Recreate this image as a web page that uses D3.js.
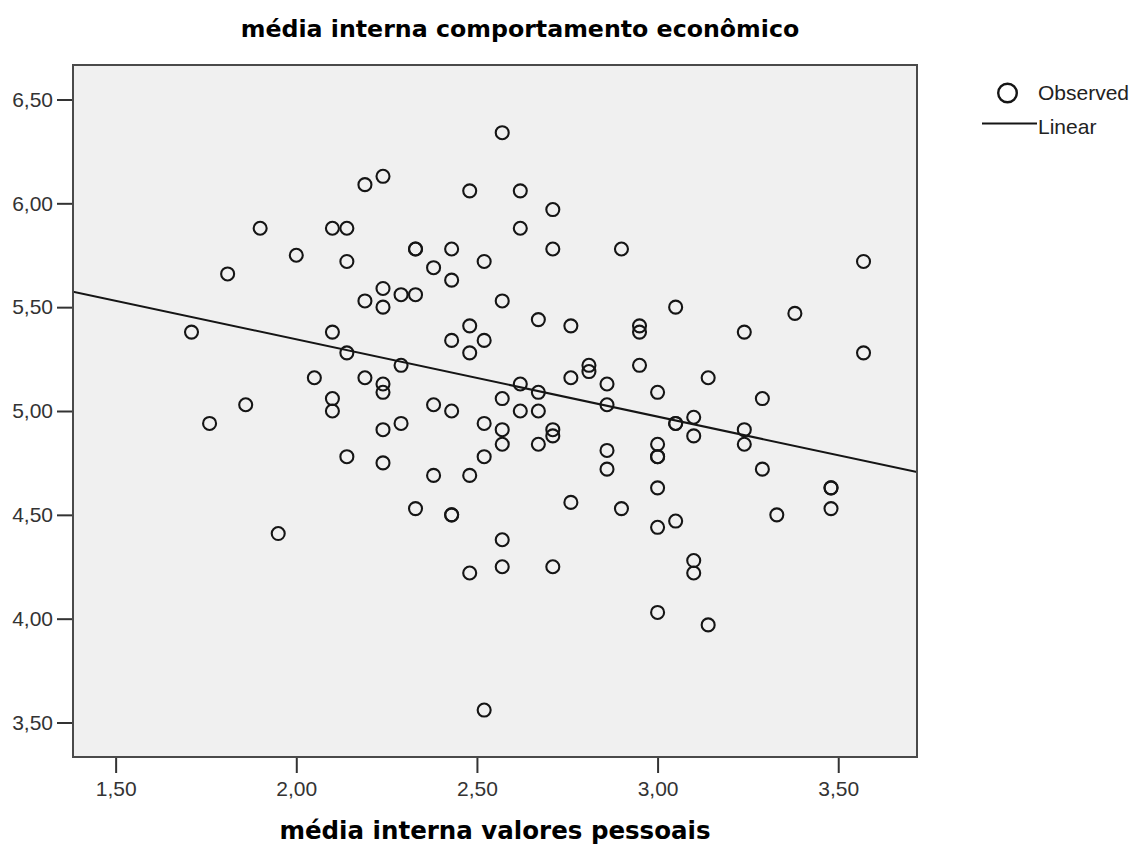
<!DOCTYPE html>
<html>
<head>
<meta charset="utf-8">
<script src="https://cdn.jsdelivr.net/npm/d3@7"></script>
<style>
  html, body { margin: 0; padding: 0; background: #ffffff; }
  svg { display: block; }
</style>
</head>
<body>
<svg id="chart" width="1138" height="847"></svg>
<script>
// média interna valores pessoais (x) vs média interna comportamento econômico (y)
const valoresPessoais = [
  1.71, 1.76, 1.81, 1.86, 1.90, 1.95, 2.00, 2.05, 2.10, 2.10,
  2.10, 2.10, 2.14, 2.14, 2.14, 2.14, 2.19, 2.19, 2.19, 2.24,
  2.24, 2.24, 2.24, 2.24, 2.24, 2.24, 2.29, 2.29, 2.29, 2.33,
  2.33, 2.33, 2.33, 2.38, 2.38, 2.38, 2.43, 2.43, 2.43, 2.43,
  2.43, 2.43, 2.48, 2.48, 2.48, 2.48, 2.48, 2.52, 2.52, 2.52,
  2.52, 2.52, 2.57, 2.57, 2.57, 2.57, 2.57, 2.57, 2.57, 2.62,
  2.62, 2.62, 2.62, 2.67, 2.67, 2.67, 2.67, 2.71, 2.71, 2.71,
  2.71, 2.71, 2.76, 2.76, 2.76, 2.81, 2.81, 2.86, 2.86, 2.86,
  2.86, 2.90, 2.90, 2.95, 2.95, 2.95, 3.00, 3.00, 3.00, 3.00,
  3.00, 3.00, 3.00, 3.05, 3.05, 3.05, 3.05, 3.10, 3.10, 3.10,
  3.10, 3.14, 3.14, 3.24, 3.24, 3.24, 3.29, 3.29, 3.33, 3.38,
  3.48, 3.48, 3.48, 3.57, 3.57
];
const comportamentoEconomico = [
  5.38, 4.94, 5.66, 5.03, 5.88, 4.41, 5.75, 5.16, 5.88, 5.38,
  5.06, 5.00, 5.88, 5.72, 5.28, 4.78, 6.09, 5.53, 5.16, 6.13,
  5.59, 5.50, 5.13, 5.09, 4.91, 4.75, 5.56, 5.22, 4.94, 5.78,
  5.78, 5.56, 4.53, 5.69, 5.03, 4.69, 5.78, 5.63, 5.34, 5.00,
  4.50, 4.50, 6.06, 5.41, 5.28, 4.69, 4.22, 5.72, 5.34, 4.94,
  4.78, 3.56, 6.34, 5.53, 5.06, 4.91, 4.84, 4.38, 4.25, 6.06,
  5.88, 5.13, 5.00, 5.44, 5.09, 5.00, 4.84, 5.97, 5.78, 4.91,
  4.88, 4.25, 5.41, 5.16, 4.56, 5.22, 5.19, 5.13, 5.03, 4.81,
  4.72, 5.78, 4.53, 5.41, 5.38, 5.22, 5.09, 4.84, 4.78, 4.78,
  4.63, 4.44, 4.03, 5.50, 4.94, 4.94, 4.47, 4.97, 4.88, 4.28,
  4.22, 5.16, 3.97, 5.38, 4.91, 4.84, 5.06, 4.72, 4.50, 5.47,
  4.63, 4.63, 4.53, 5.72, 5.28
];

// Linear fit line (intercept, slope)
const fitIntercept = 6.089;
const fitSlope = -0.372;

const xTicks = [1.5, 2.0, 2.5, 3.0, 3.5];
const yTicks = [3.5, 4.0, 4.5, 5.0, 5.5, 6.0, 6.5];
const xDomain = [1.382, 3.718];
const yDomain = [3.334, 6.666];

const titleText = "média interna comportamento econômico";
const xTitleText = "média interna valores pessoais";
const legendLabels = ["Observed", "Linear"];

const svg = d3.select("#chart");
const plot = { left: 73, top: 65, right: 917, bottom: 757 };

const x = d3.scaleLinear().domain(xDomain).range([plot.left, plot.right]);
const y = d3.scaleLinear().domain(yDomain).range([plot.bottom, plot.top]);

const locale = d3.formatLocale({ decimal: ",", thousands: ".", grouping: [3], currency: ["", ""] });
const fmt = locale.format(".2f");

const labelFont = "'Liberation Sans', Arial, sans-serif";
const titleFont = "'DejaVu Sans', Verdana, sans-serif";

// plot background
svg.append("rect")
  .attr("x", plot.left).attr("y", plot.top)
  .attr("width", plot.right - plot.left).attr("height", plot.bottom - plot.top)
  .attr("fill", "#f0f0f0");

// clip for the data area
svg.append("clipPath").attr("id", "plotClip")
  .append("rect")
  .attr("x", plot.left).attr("y", plot.top)
  .attr("width", plot.right - plot.left).attr("height", plot.bottom - plot.top);

const data = valoresPessoais.map((v, i) => ({ x: v, y: comportamentoEconomico[i] }));

// observed points
svg.append("g").attr("clip-path", "url(#plotClip)")
  .selectAll("circle").data(data).join("circle")
  .attr("cx", d => x(d.x))
  .attr("cy", d => y(d.y))
  .attr("r", 6.5)
  .attr("fill", "none")
  .attr("stroke", "#151515")
  .attr("stroke-width", 2.1);

// linear fit
const lineData = xDomain.map(v => ({ x: v, y: fitIntercept + fitSlope * v }));
svg.append("path")
  .attr("clip-path", "url(#plotClip)")
  .datum(lineData)
  .attr("d", d3.line().x(d => x(d.x)).y(d => y(d.y)))
  .attr("fill", "none")
  .attr("stroke", "#151515")
  .attr("stroke-width", 2);

// axes
const yAxis = d3.axisLeft(y).tickValues(yTicks).tickFormat(fmt).tickSize(16).tickPadding(4);
const xAxis = d3.axisBottom(x).tickValues(xTicks).tickFormat(fmt).tickSize(16).tickPadding(8);

const gy = svg.append("g").attr("transform", `translate(${plot.left},0)`).call(yAxis);
const gx = svg.append("g").attr("transform", `translate(0,${plot.bottom})`).call(xAxis);

[gx, gy].forEach(g => {
  g.select(".domain").remove();
  g.selectAll(".tick line").attr("stroke", "#333").attr("stroke-width", 2);
  g.selectAll(".tick text")
    .attr("fill", "#333")
    .style("font-family", labelFont)
    .style("font-size", "21px");
});

// frame
svg.append("rect")
  .attr("x", plot.left).attr("y", plot.top)
  .attr("width", plot.right - plot.left).attr("height", plot.bottom - plot.top)
  .attr("fill", "none")
  .attr("stroke", "#4a4a4a")
  .attr("stroke-width", 2);

// titles
svg.append("text")
  .attr("x", 520).attr("y", 37)
  .attr("text-anchor", "middle")
  .style("font-family", titleFont)
  .style("font-weight", "bold")
  .style("font-size", "23.7px")
  .attr("fill", "#000")
  .text(titleText);

svg.append("text")
  .attr("x", (plot.left + plot.right) / 2).attr("y", 839)
  .attr("text-anchor", "middle")
  .style("font-family", titleFont)
  .style("font-weight", "bold")
  .style("font-size", "24.5px")
  .attr("fill", "#000")
  .text(xTitleText);

// legend
const legend = svg.append("g");
legend.append("circle")
  .attr("cx", 1007.5).attr("cy", 93)
  .attr("r", 9.3)
  .attr("fill", "none")
  .attr("stroke", "#151515")
  .attr("stroke-width", 2.4);
legend.append("text")
  .attr("x", 1038).attr("y", 100)
  .style("font-family", labelFont)
  .style("font-size", "21px")
  .attr("fill", "#222")
  .text(legendLabels[0]);
legend.append("line")
  .attr("x1", 982).attr("x2", 1037)
  .attr("y1", 123.5).attr("y2", 123.5)
  .attr("stroke", "#151515")
  .attr("stroke-width", 2);
legend.append("text")
  .attr("x", 1038).attr("y", 134)
  .style("font-family", labelFont)
  .style("font-size", "21px")
  .attr("fill", "#222")
  .text(legendLabels[1]);
</script>
</body>
</html>
